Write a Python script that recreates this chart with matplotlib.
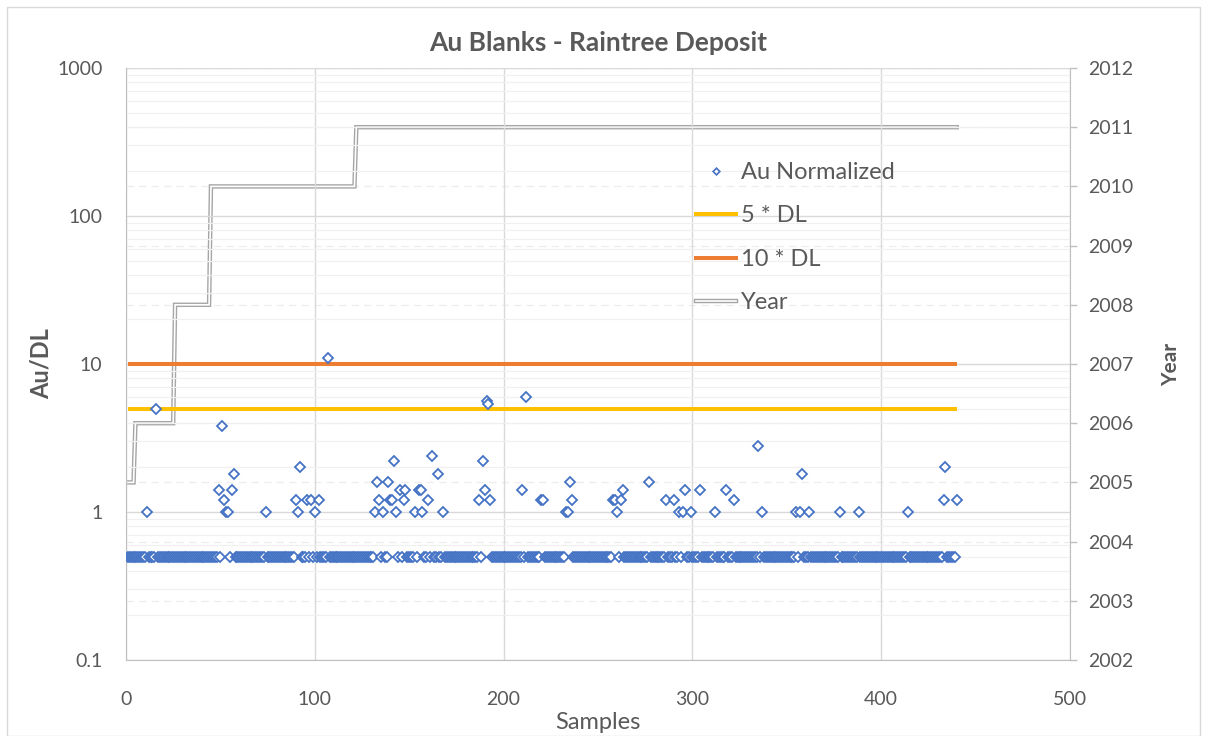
import numpy as np
import matplotlib
matplotlib.use("Agg")
import matplotlib.pyplot as plt
from matplotlib.lines import Line2D
from matplotlib.patches import Rectangle
from matplotlib.ticker import FixedLocator, NullFormatter, LogLocator

plt.rcParams['font.family'] = ['Lato', 'DejaVu Sans']

# ---------------- data ----------------
n_samples = 440
baseline_value = 0.5
# samples that are above the baseline (sample number, Au/DL)
outlier_samples = [11, 16, 49, 51, 52, 53, 54, 56, 57, 74,
                   90, 91, 92, 96, 98, 100, 102, 107,
                   132, 133, 134, 136, 139, 140, 141, 142, 143, 145, 147, 148,
                   153, 155, 156, 157, 160, 162, 165, 168,
                   187, 189, 190, 191, 192, 193, 210, 212, 220, 221,
                   233, 234, 235, 236, 258, 259, 260, 262, 263,
                   277, 286, 290, 293, 295, 296, 299, 304, 312, 318, 322,
                   335, 337, 355, 357, 358, 362, 378, 388, 414, 433, 434, 440]
outlier_values = [1.0, 5.0, 1.4, 3.8, 1.2, 1.0, 1.0, 1.4, 1.8, 1.0,
                  1.2, 1.0, 2.0, 1.2, 1.2, 1.0, 1.2, 11.0,
                  1.0, 1.6, 1.2, 1.0, 1.6, 1.2, 1.2, 2.2, 1.0, 1.4, 1.2, 1.4,
                  1.0, 1.4, 1.4, 1.0, 1.2, 2.4, 1.8, 1.0,
                  1.2, 2.2, 1.4, 5.6, 5.4, 1.2, 1.4, 6.0, 1.2, 1.2,
                  1.0, 1.0, 1.6, 1.2, 1.2, 1.2, 1.0, 1.2, 1.4,
                  1.6, 1.2, 1.2, 1.0, 1.0, 1.4, 1.0, 1.4, 1.0, 1.4, 1.2,
                  2.8, 1.0, 1.0, 1.0, 1.8, 1.0, 1.0, 1.0, 1.0, 1.2, 2.0, 1.2]
dl5 = 5
dl10 = 10
# year of each sample: the year changes at these sample numbers
year_change_samples = [1, 5, 26, 45, 122]
year_values = [2005, 2006, 2008, 2010, 2011]

title = "Au Blanks - Raintree Deposit"
x_label = "Samples"
y_label = "Au/DL"
y2_label = "Year"
y_ticks = [0.1, 1, 10, 100, 1000]
y_tick_labels = ["0.1", "1", "10", "100", "1000"]
x_ticks = [0, 100, 200, 300, 400, 500]
y2_ticks = list(range(2002, 2013))

# ---------------- build series ----------------
samples = np.arange(1, n_samples + 1)
au = np.full(n_samples, baseline_value)
for s, v in zip(outlier_samples, outlier_values):
    au[s - 1] = v
bounds = year_change_samples + [n_samples + 1]
counts = np.diff(bounds)
years = np.repeat(year_values, counts)

# ---------------- figure ----------------
W, H = 1207, 736
fig = plt.figure(figsize=(W / 100, H / 100), dpi=100)
fig.patches.append(Rectangle((7 / W, 0), (1200 - 7) / W, 1 - 7 / H,
                             transform=fig.transFigure, fill=False,
                             edgecolor='#D9D9D9', linewidth=1.0))

L, R, T, B = 126, 1070, 68, 660
ax2 = fig.add_axes([L / W, 1 - B / H, (R - L) / W, (B - T) / H])
ax = fig.add_axes([L / W, 1 - B / H, (R - L) / W, (B - T) / H])
ax.set_zorder(ax2.get_zorder() + 1)
ax.patch.set_visible(False)

txt = '#595959'
grid_c = '#D9D9D9'

# year axis (behind)
ax2.set_xlim(0, 500)
ax2.set_xticks([])
ax2.set_ylim(2002, 2012)
ax2.yaxis.tick_right()
ax2.yaxis.set_label_position('right')
ax2.set_yticks(y2_ticks)
ax2.set_yticklabels([str(y) for y in y2_ticks])
ax2.tick_params(axis='y', length=5, width=1, color='#BFBFBF', labelsize=14,
                labelcolor=txt, pad=8)
for y in y2_ticks:
    ax2.axhline(y, color='#EDEDED', lw=0.9, ls=(0, (6, 4)), zorder=0)
ax2.plot(samples, years, color='#A6A6A6', lw=3.2, solid_joinstyle='miter', zorder=2)
ax2.plot(samples, years, color='white', lw=1.2, solid_joinstyle='miter', zorder=3)
ax2.set_ylabel(y2_label, fontsize=15, fontweight='bold', color=txt, labelpad=20)
for sp in ['top', 'left', 'bottom']:
    ax2.spines[sp].set_visible(False)
ax2.spines['right'].set_color('#BFBFBF')
ax2.yaxis.label.set_rotation(90)

# main log axis
ax.set_yscale('log')
ax.set_ylim(0.1, 1000)
ax.set_xlim(0, 500)
ax.yaxis.set_major_locator(FixedLocator(y_ticks))
ax.set_yticklabels(y_tick_labels)
ax.yaxis.set_minor_locator(LogLocator(base=10, subs=np.arange(2, 10)))
ax.yaxis.set_minor_formatter(NullFormatter())
ax.set_xticks(x_ticks)
ax.set_xticklabels([str(x) for x in x_ticks])
ax.tick_params(axis='both', which='both', length=0, labelsize=14, labelcolor=txt)
ax.tick_params(axis='y', pad=17)
ax.tick_params(axis='x', pad=22)
ax.grid(True, which='major', axis='both', color=grid_c, lw=1.0, zorder=0)
ax.grid(True, which='minor', axis='y', color='#F0F0F0', lw=0.9, zorder=0)
ax.set_axisbelow(True)
for sp in ['top', 'right']:
    ax.spines[sp].set_visible(False)
for sp in ['left', 'bottom']:
    ax.spines[sp].set_color('#BFBFBF')

ax.plot([samples[0], samples[-1]], [dl10, dl10], color='#ED7D31', lw=2.9,
        solid_capstyle='butt', zorder=3)
ax.plot([samples[0], samples[-1]], [dl5, dl5], color='#FFC000', lw=2.9,
        solid_capstyle='butt', zorder=3)
ax.plot(samples, au, ls='none', marker='D', ms=4.8, mew=1.3,
        mec='#4472C4', mfc='white', zorder=4)

ax.set_title(title, fontsize=19, fontweight='bold', color=txt, pad=12)
ax.set_xlabel(x_label, fontsize=17, color=txt, labelpad=3)
ax.set_ylabel(y_label, fontsize=17, fontweight='bold', color=txt, labelpad=3)

# legend
h_au = Line2D([], [], ls='none', marker='D', ms=3.4, mew=1.2, mec='#4472C4', mfc='white')
h5 = Line2D([], [], color='#FFC000', lw=2.9)
h10 = Line2D([], [], color='#ED7D31', lw=2.9)
hy_o = Line2D([], [], color='#A6A6A6', lw=3.2)
hy_i = Line2D([], [], color='white', lw=1.2)
leg = ax.legend([h_au, h5, h10, (hy_o, hy_i)],
                ["Au Normalized", "5 * DL", "10 * DL", "Year"],
                loc='upper left', bbox_to_anchor=((696 - L) / (R - L), (B - 162) / (B - T)),
                frameon=False, fontsize=17, labelspacing=0.95, handlelength=1.7,
                handletextpad=0.2, borderaxespad=0, borderpad=0)
for t in leg.get_texts():
    t.set_color(txt)

fig.savefig('out.png', dpi=100)
